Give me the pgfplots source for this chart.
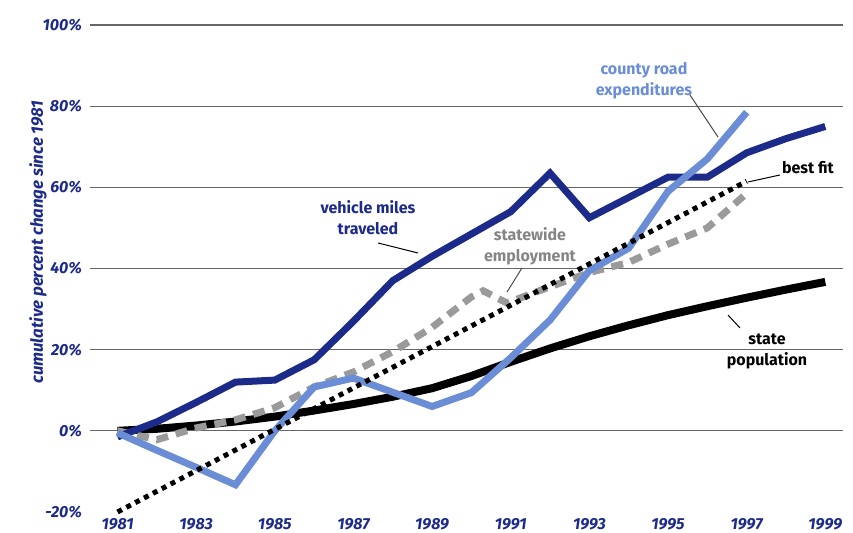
\documentclass[border=0pt]{standalone}
\usepackage{fontspec}
\setmainfont{Fira Sans}
\usepackage{pgfplots}
\pgfplotsset{compat=1.18}
\definecolor{navy}{HTML}{1C2A8A}
\definecolor{ltblue}{HTML}{6A8DD6}
\definecolor{empgray}{HTML}{9A9A9A}
\definecolor{txtgray}{HTML}{858585}
\begin{document}
\begin{tikzpicture}
\begin{axis}[
  scale only axis, width=376.5pt, height=243.5pt,
  xmin=1980.3, xmax=1999.45, ymin=-20, ymax=100,
  clip=false,
  axis line style={draw=none},
  major tick style={draw=none},
  xtick={1981,1983,...,1999},
  xticklabels={1981,1983,1985,1987,1989,1991,1993,1995,1997,1999},
  ytick={0,20,...,100},
  yticklabels={0\%,20\%,40\%,60\%,80\%,100\%},
  extra y ticks={-20}, extra y tick labels={-20\%},
  extra y tick style={grid=none},
  ymajorgrids,
  major grid style={draw=black!60, line width=0.6pt},
  ticklabel style={font=\fontsize{8}{9.5}\selectfont\bfseries\itshape, text=navy},
  yticklabel style={xshift=-0.5pt},
  xticklabel style={yshift=0.5pt},
]
\addplot[black, line width=4pt] coordinates {
(1981,0) (1982,0.5) (1983,1.3) (1984,2.3) (1985,3.5) (1986,5) (1987,6.6) (1988,8.4) (1989,10.5) (1990,13.5) (1991,17) (1992,20.3) (1993,23.3) (1994,26) (1995,28.5) (1996,30.7) (1997,32.8) (1998,34.8) (1999,36.7)};
\addplot[empgray, line width=3.5pt, dash pattern=on 6pt off 4pt] coordinates {
(1981,0) (1982,-2.2) (1983,0.7) (1984,2.7) (1985,5.7) (1986,10.8) (1987,14.5) (1988,19.5) (1989,25.5) (1990,33) (1990.3,34.5) (1990.9,31.5) (1992,35.5) (1993,39) (1994,41.5) (1995,46) (1996,50) (1997,58.5)};
\addplot[navy, line width=3.5pt] coordinates {
(1981,-1.5) (1982,2.2) (1983,7) (1984,12) (1985,12.5) (1986,17.5) (1987,27) (1988,37) (1989,43) (1990,48.5) (1991,54) (1992,63.5) (1993,52.5) (1994,57.5) (1995,62.5) (1996,62.5) (1997,68.5) (1998,72) (1999,75)};
\addplot[ltblue, line width=3.5pt] coordinates {
(1981,-0.5) (1982,-4.8) (1983,-9) (1984,-13.3) (1985,0) (1986,10.8) (1987,13) (1988,9.5) (1989,6) (1990,9.4) (1991,18) (1992,27.3) (1993,39.5) (1994,45) (1995,59) (1996,67) (1997,78.5)};
\addplot[black, line width=2.5pt, dash pattern=on 2.5pt off 2.5pt] coordinates {
(1981,-20) (1997,61.5)};
% annotations
\node[font=\fontsize{8}{10.5}\selectfont\bfseries, text=navy, align=center] at (rel axis cs:0.3692,0.6047) {vehicle miles\\traveled};
\draw[black, line width=0.5pt] (rel axis cs:0.3825,0.5524) -- (rel axis cs:0.4356,0.5318);
\node[font=\fontsize{8}{10.5}\selectfont\bfseries, text=txtgray, align=center] at (rel axis cs:0.5843,0.5452) {statewide\\employment};
\draw[black!70, line width=0.5pt] (rel axis cs:0.5737,0.5010) -- (rel axis cs:0.5538,0.4517);
\node[font=\fontsize{8}{10.5}\selectfont\bfseries, text=ltblue, align=center] at (rel axis cs:0.7357,0.8850) {county road\\expenditures};
\draw[black!70, line width=0.5pt] (rel axis cs:0.7968,0.8563) -- (rel axis cs:0.8340,0.7700);
\node[font=\fontsize{8}{10.5}\selectfont\bfseries, text=black] at (rel axis cs:0.9535,0.7064) {best fit};
\draw[black, line width=0.5pt] (rel axis cs:0.9163,0.6920) -- (rel axis cs:0.8738,0.6776);
\node[font=\fontsize{8}{10.5}\selectfont\bfseries, text=black, align=center] at (rel axis cs:0.8991,0.3306) {state\\population};
\draw[black, line width=0.5pt] (rel axis cs:0.8473,0.4045) -- (rel axis cs:0.8632,0.3778);
\node[rotate=90, font=\fontsize{8.4}{10}\selectfont\bfseries\itshape, text=navy] at (rel axis cs:-0.069,0.554) {cumulative percent change since 1981};
\end{axis}
\pgfresetboundingbox
\path[use as bounding box] ([shift={(-45pt,-10.5pt)}]current axis.south west) rectangle ([shift={(5pt,12.5pt)}]current axis.north east);
\end{tikzpicture}
\end{document}
